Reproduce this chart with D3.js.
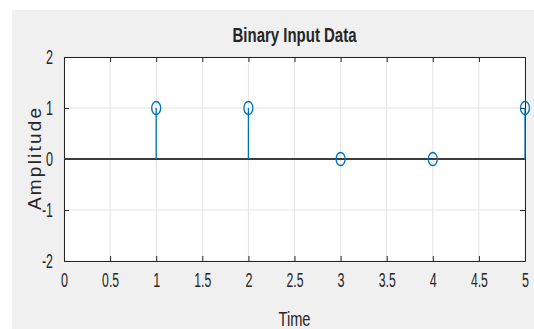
<!DOCTYPE html>
<html>
<head>
<meta charset="utf-8">
<script src="https://cdn.jsdelivr.net/npm/d3@7"></script>
<style>
  body { margin: 0; background: #ffffff; }
  text { font-family: "Liberation Sans", Arial, sans-serif; fill: #262626; }
</style>
</head>
<body>
<div id="wrapper"></div>
<script>
const timeValues = [1, 2, 3, 4, 5];
const amplitudeValues = [1, 1, 0, 0, 1];
const xTicks = [0, 0.5, 1, 1.5, 2, 2.5, 3, 3.5, 4, 4.5, 5];
const yTicks = [-2, -1, 0, 1, 2];

const dimensions = {
  width: 534,
  height: 329,
  margins: { top: 57, right: 9, bottom: 68, left: 64 }
};
dimensions.boundedWidth = dimensions.width - dimensions.margins.left - dimensions.margins.right;
dimensions.boundedHeight = dimensions.height - dimensions.margins.top - dimensions.margins.bottom;

const svg = d3.select("#wrapper")
  .append("svg")
    .attr("width", dimensions.width)
    .attr("height", dimensions.height);

// figure background
svg.append("rect")
  .attr("x", 12).attr("y", 10)
  .attr("width", dimensions.width - 12)
  .attr("height", dimensions.height - 10)
  .attr("fill", "#f0f0f0");

const bounds = svg.append("g")
  .attr("transform", `translate(${dimensions.margins.left},${dimensions.margins.top})`);

const xScale = d3.scaleLinear().domain([0, 5]).range([0, dimensions.boundedWidth]);
const yScale = d3.scaleLinear().domain([-2, 2]).range([dimensions.boundedHeight, 0]);

bounds.append("rect")
  .attr("width", dimensions.boundedWidth)
  .attr("height", dimensions.boundedHeight)
  .attr("fill", "#ffffff");

// grid
bounds.append("g")
  .selectAll("line")
  .data(xTicks)
  .join("line")
    .attr("x1", d => xScale(d)).attr("x2", d => xScale(d))
    .attr("y1", 0).attr("y2", dimensions.boundedHeight)
    .attr("stroke", "#e3e3e3").attr("stroke-width", 1);

bounds.append("g")
  .selectAll("line")
  .data(yTicks)
  .join("line")
    .attr("x1", 0).attr("x2", dimensions.boundedWidth)
    .attr("y1", d => yScale(d)).attr("y2", d => yScale(d))
    .attr("stroke", "#e3e3e3").attr("stroke-width", 1);

// narrow label width: digits ~7px, dot/minus ~3-4px
const labelWidth = s => s.split("").reduce((w, c) => w + (c === "." ? 3 : c === "-" ? 4 : 7), 0);

// axes (ticks inward, box)
const xAxisBottom = d3.axisBottom(xScale).tickValues(xTicks).tickSizeInner(-5).tickSizeOuter(0)
  .tickPadding(12).tickFormat(d => String(d));
const xAxisTop = d3.axisTop(xScale).tickValues(xTicks).tickSizeInner(-5).tickSizeOuter(0).tickFormat("");
const yAxisLeft = d3.axisLeft(yScale).tickValues(yTicks).tickSizeInner(-5).tickSizeOuter(0)
  .tickPadding(11).tickFormat(d => String(d));
const yAxisRight = d3.axisRight(yScale).tickValues(yTicks).tickSizeInner(-5).tickSizeOuter(0).tickFormat("");

function styleAxis(g) {
  g.select(".domain").attr("stroke", "#262626");
  g.selectAll(".tick line").attr("stroke", "#262626");
  g.selectAll(".tick text")
    .attr("fill", "#262626")
    .style("font-size", "20px")
    .style("font-family", "'Liberation Sans', sans-serif")
    .attr("lengthAdjust", "spacingAndGlyphs")
    .attr("textLength", function() { return labelWidth(this.textContent); });
}

bounds.append("g")
  .attr("transform", `translate(0,${dimensions.boundedHeight})`)
  .call(xAxisBottom).call(styleAxis);
bounds.append("g").call(xAxisTop).call(styleAxis);
bounds.append("g").call(yAxisLeft).call(styleAxis);
bounds.append("g")
  .attr("transform", `translate(${dimensions.boundedWidth},0)`)
  .call(yAxisRight).call(styleAxis);

// baseline
bounds.append("line")
  .attr("x1", 0).attr("x2", dimensions.boundedWidth)
  .attr("y1", yScale(0)).attr("y2", yScale(0))
  .attr("stroke", "#3c3c3c").attr("stroke-width", 2);

// stems
const stemColor = "#0072bd";
bounds.append("g")
  .selectAll("line")
  .data(timeValues)
  .join("line")
    .attr("x1", d => xScale(d)).attr("x2", d => xScale(d))
    .attr("y1", yScale(0))
    .attr("y2", (d, i) => yScale(amplitudeValues[i]))
    .attr("stroke", stemColor).attr("stroke-width", 1.3);

bounds.append("g")
  .selectAll("ellipse")
  .data(timeValues)
  .join("ellipse")
    .attr("cx", d => xScale(d))
    .attr("cy", (d, i) => yScale(amplitudeValues[i]))
    .attr("rx", 4.5).attr("ry", 6.5)
    .attr("fill", "none")
    .attr("stroke", stemColor).attr("stroke-width", 1.3);

// labels
svg.append("text")
  .attr("x", dimensions.margins.left + dimensions.boundedWidth / 2)
  .attr("y", 42)
  .attr("text-anchor", "middle")
  .style("font-size", "20px")
  .style("font-weight", "bold")
  .attr("fill", "#000")
  .attr("textLength", 124)
  .attr("lengthAdjust", "spacingAndGlyphs")
  .text("Binary Input Data");

svg.append("text")
  .attr("x", dimensions.margins.left + dimensions.boundedWidth / 2)
  .attr("y", 326)
  .attr("text-anchor", "middle")
  .style("font-size", "21px")
  .attr("textLength", 32)
  .attr("lengthAdjust", "spacingAndGlyphs")
  .text("Time");

svg.append("text")
  .attr("transform", `translate(41,${dimensions.margins.top + dimensions.boundedHeight / 2}) rotate(-90)`)
  .attr("text-anchor", "middle")
  .style("font-size", "19px")
  .attr("textLength", 102)
  .attr("lengthAdjust", "spacing")
  .text("Amplitude");
</script>
</body>
</html>
